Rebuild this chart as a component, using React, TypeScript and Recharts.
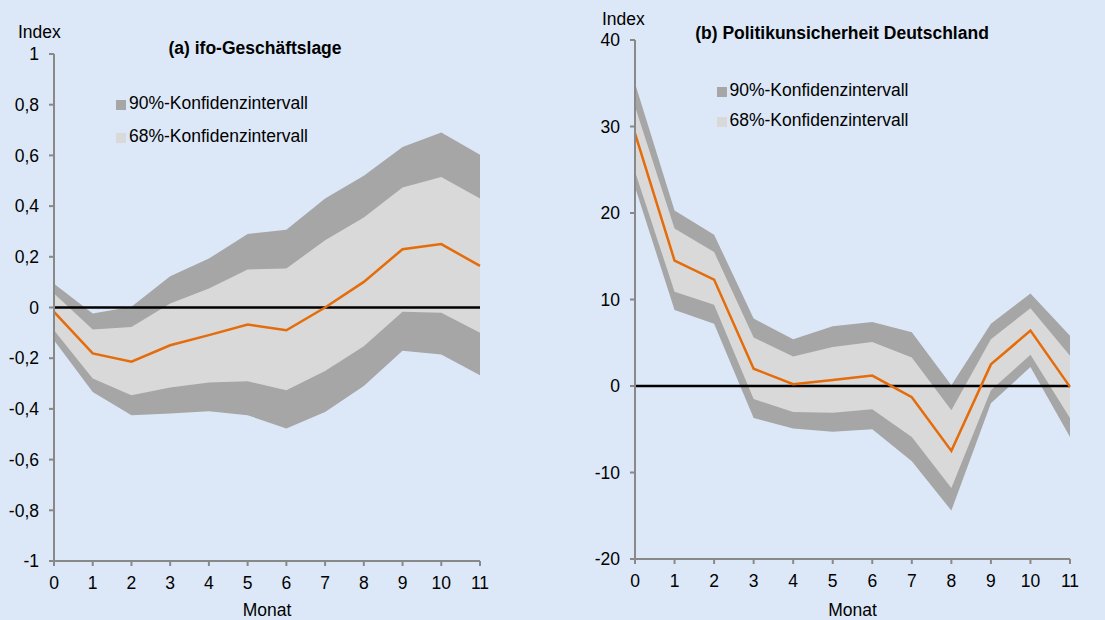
import { ComposedChart, Area, Line, XAxis, YAxis, ReferenceLine } from "recharts";

const months = [0, 1, 2, 3, 4, 5, 6, 7, 8, 9, 10, 11];

// (a) ifo-Geschäftslage
const ifoCenter = [-0.017, -0.181, -0.214, -0.149, -0.109, -0.067, -0.09, 0.0, 0.101, 0.23, 0.25, 0.164];
const ifoUpper68 = [0.055, -0.087, -0.077, 0.016, 0.075, 0.15, 0.154, 0.265, 0.355, 0.473, 0.515, 0.43];
const ifoLower68 = [-0.09, -0.28, -0.346, -0.316, -0.296, -0.291, -0.326, -0.25, -0.153, -0.017, -0.021, -0.1];
const ifoUpper90 = [0.094, -0.024, 0.003, 0.123, 0.193, 0.29, 0.307, 0.43, 0.52, 0.633, 0.69, 0.603];
const ifoLower90 = [-0.129, -0.333, -0.425, -0.418, -0.409, -0.425, -0.477, -0.412, -0.31, -0.171, -0.185, -0.267];
const ifoTicks = [-1, -0.8, -0.6, -0.4, -0.2, 0, 0.2, 0.4, 0.6, 0.8, 1];

// (b) Politikunsicherheit Deutschland
const puCenter = [29.2, 14.5, 12.3, 2.0, 0.2, 0.7, 1.2, -1.3, -7.5, 2.5, 6.4, -0.1];
const puUpper68 = [32.3, 18.2, 15.5, 5.6, 3.4, 4.5, 5.1, 3.3, -2.8, 5.4, 9.0, 3.5];
const puLower68 = [24.8, 10.9, 9.4, -1.5, -3.0, -3.1, -2.7, -5.9, -11.8, -0.5, 3.6, -3.7];
const puUpper90 = [35.0, 20.3, 17.5, 7.8, 5.4, 6.9, 7.4, 6.2, 0.1, 7.2, 10.7, 5.8];
const puLower90 = [23.0, 8.8, 7.2, -3.7, -4.9, -5.3, -5.0, -8.7, -14.4, -2.0, 2.2, -5.9];
const puTicks = [-20, -10, 0, 10, 20, 30, 40];

const BG = "#dce8f7";
const DARK = "#a6a6a6";
const LIGHT = "#d9d9d9";
const ORANGE = "#e46c0a";
const AXIS = "#898989";
const FONT = "'Liberation Sans', Arial, sans-serif";
const FS = 17.5;

function build(center: number[], lo68: number[], hi68: number[], lo90: number[], hi90: number[]) {
  return months.map((m, i) => ({
    m,
    center: center[i],
    band68: [lo68[i], hi68[i]],
    band90: [lo90[i], hi90[i]],
  }));
}

const ifoData = build(ifoCenter, ifoLower68, ifoUpper68, ifoLower90, ifoUpper90);
const puData = build(puCenter, puLower68, puUpper68, puLower90, puUpper90);

const fmt = (v: number) => String(v).replace(".", ",");

function Panel(props: {
  data: any[];
  width: number;
  height: number;
  yWidth: number;
  top: number;
  right: number;
  xHeight: number;
  domain: [number, number];
  ticks: number[];
}) {
  const { data, width, height, yWidth, top, right, xHeight, domain, ticks } = props;
  const tickStyle = { fill: "#000", fontSize: FS, fontFamily: FONT };
  return (
    <ComposedChart width={width} height={height} data={data} margin={{ top, right, left: 0, bottom: 0 }}>
      <XAxis
        dataKey="m"
        type="number"
        domain={[0, 11]}
        ticks={months}
        interval={0}
        height={xHeight}
        stroke={AXIS}
        strokeWidth={2}
        tickSize={5}
        tickMargin={11}
        tick={tickStyle}
        label={{ value: "Monat", position: "insideBottom", offset: 4, fill: "#000", fontSize: FS, fontFamily: FONT }}
      />
      <YAxis
        type="number"
        domain={domain}
        ticks={ticks}
        interval={0}
        width={yWidth}
        stroke={AXIS}
        strokeWidth={2}
        tickSize={5}
        tickMargin={10}
        tick={tickStyle}
        tickFormatter={fmt}
      />
      <Area dataKey="band90" stroke="none" fill={DARK} fillOpacity={1} isAnimationActive={false} activeDot={false} />
      <Area dataKey="band68" stroke="none" fill={LIGHT} fillOpacity={1} isAnimationActive={false} activeDot={false} />
      <ReferenceLine y={0} stroke="#000" strokeWidth={2.5} />
      <Line dataKey="center" stroke={ORANGE} strokeWidth={2.5} dot={false} activeDot={false} isAnimationActive={false} />
    </ComposedChart>
  );
}

function LegendItem({ x, y, color, text }: { x: number; y: number; color: string; text: string }) {
  return (
    <div style={{ position: "absolute", left: x, top: y, height: 20, lineHeight: "20px", fontSize: FS, fontFamily: FONT, color: "#000", whiteSpace: "nowrap" }}>
      <span style={{ display: "inline-block", width: 10, height: 10, background: color, marginRight: 3, verticalAlign: "-1px" }} />
      {text}
    </div>
  );
}

const textStyle = { position: "absolute" as const, fontFamily: FONT, fontSize: FS, lineHeight: "20px", color: "#000", whiteSpace: "nowrap" as const };

export default function App() {
  return (
    <div style={{ position: "absolute", left: 0, top: 0, width: 1105, height: 620, background: BG, overflow: "hidden" }}>
      <div style={{ position: "absolute", left: 0, top: 0 }}>
        <Panel data={ifoData} width={550} height={620} yWidth={54} top={54} right={70} xHeight={59} domain={[-1, 1]} ticks={ifoTicks} />
      </div>
      <div style={{ position: "absolute", left: 560, top: 0 }}>
        <Panel data={puData} width={545} height={620} yWidth={75} top={40} right={35} xHeight={61} domain={[-20, 40]} ticks={puTicks} />
      </div>

      <div style={{ ...textStyle, left: 18, top: 22 }}>Index</div>
      <div style={{ ...textStyle, left: 105, top: 38, width: 300, textAlign: "center", fontWeight: "bold" }}>(a) ifo-Geschäftslage</div>
      <LegendItem x={116} y={92.7} color={DARK} text="90%-Konfidenzintervall" />
      <LegendItem x={116} y={126.3} color={LIGHT} text="68%-Konfidenzintervall" />

      <div style={{ ...textStyle, left: 602, top: 9 }}>Index</div>
      <div style={{ ...textStyle, left: 642, top: 22.5, width: 400, textAlign: "center", fontWeight: "bold" }}>(b) Politikunsicherheit Deutschland</div>
      <LegendItem x={716.5} y={80} color={DARK} text="90%-Konfidenzintervall" />
      <LegendItem x={716.5} y={110} color={LIGHT} text="68%-Konfidenzintervall" />
    </div>
  );
}
